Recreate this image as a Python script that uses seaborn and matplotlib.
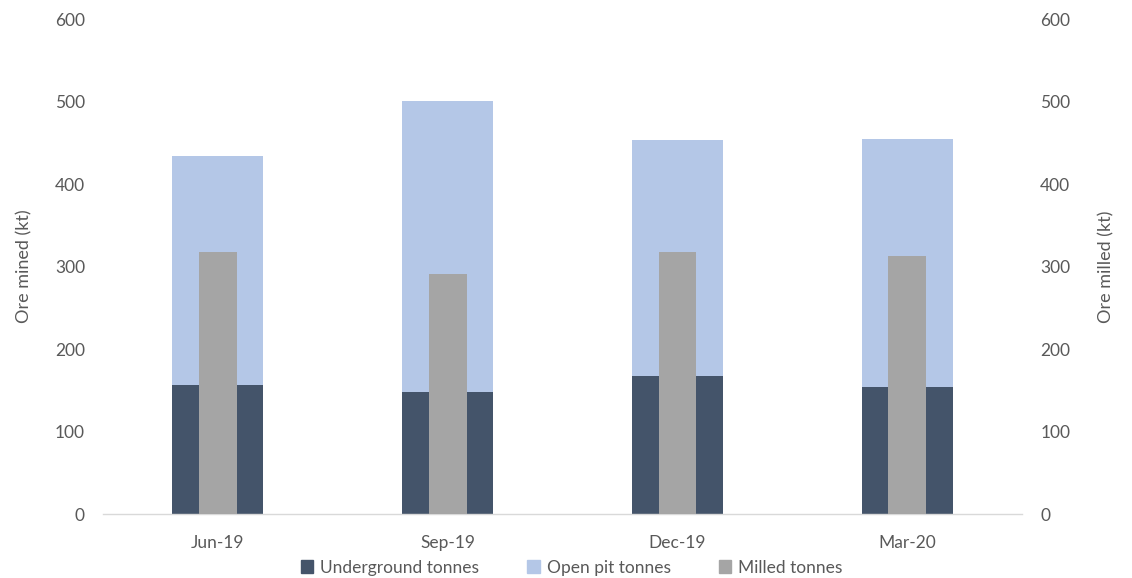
import matplotlib
matplotlib.use("Agg")
import matplotlib.pyplot as plt
from matplotlib.patches import Patch
import seaborn as sns
import pandas as pd

quarters = ["Jun-19", "Sep-19", "Dec-19", "Mar-20"]
underground_kt = [156, 148, 167, 154]
open_pit_kt = [278, 353, 286, 301]
milled_kt = [318, 291, 318, 313]

total_mined_kt = [u + o for u, o in zip(underground_kt, open_pit_kt)]
df = pd.DataFrame({
    "quarter": quarters,
    "underground": underground_kt,
    "total": total_mined_kt,
    "milled": milled_kt,
})

sns.set_theme(style="white")
plt.rcParams["font.family"] = ["Lato", "DejaVu Sans"]

c_ug = "#44546A"
c_op = "#B4C7E7"
c_mill = "#A5A5A5"
text_c = "#595959"

fig = plt.figure(figsize=(11.32, 5.78), dpi=100)
ax = fig.add_axes([0.091, 0.1107, 0.812, 0.8563])

# stacked ore mined: open pit drawn as full height, underground on top of it
sns.barplot(data=df, x="quarter", y="total", color=c_op, width=0.396,
            saturation=1, linewidth=0, ax=ax, zorder=1)
sns.barplot(data=df, x="quarter", y="underground", color=c_ug, width=0.396,
            saturation=1, linewidth=0, ax=ax, zorder=2)

ax2 = ax.twinx()
sns.barplot(data=df, x="quarter", y="milled", color=c_mill, width=0.165,
            saturation=1, linewidth=0, ax=ax2, zorder=3)

for a in (ax, ax2):
    a.set_ylim(0, 600)
    a.set_yticks(range(0, 601, 100))
    a.set_xlim(-0.5, 3.5)
    for s in a.spines.values():
        s.set_visible(False)
    a.tick_params(axis="both", length=0, colors=text_c, labelsize=12.5)
    a.set_xlabel("")

ax.spines["bottom"].set_visible(True)
ax.spines["bottom"].set_color("#D9D9D9")
ax.spines["bottom"].set_linewidth(1)
ax.tick_params(axis="y", pad=13)
ax2.tick_params(axis="y", pad=13)
ax.tick_params(axis="x", pad=15)
ax2.tick_params(axis="x", labelbottom=False)

ax.set_ylabel("Ore mined (kt)", color=text_c, fontsize=13, labelpad=16)
ax2.set_ylabel("Ore milled (kt)", color=text_c, fontsize=13, labelpad=20)

handles = [Patch(color=c_ug, label="Underground tonnes"),
           Patch(color=c_op, label="Open pit tonnes"),
           Patch(color=c_mill, label="Milled tonnes")]
leg = fig.legend(handles=handles, loc="center", bbox_to_anchor=(0.505, 0.018),
                 ncol=3, frameon=False, fontsize=12.5, handlelength=0.7,
                 handleheight=0.7, handletextpad=0.4, columnspacing=2.8)
for t in leg.get_texts():
    t.set_color(text_c)

fig.savefig("out.png", dpi=100)
